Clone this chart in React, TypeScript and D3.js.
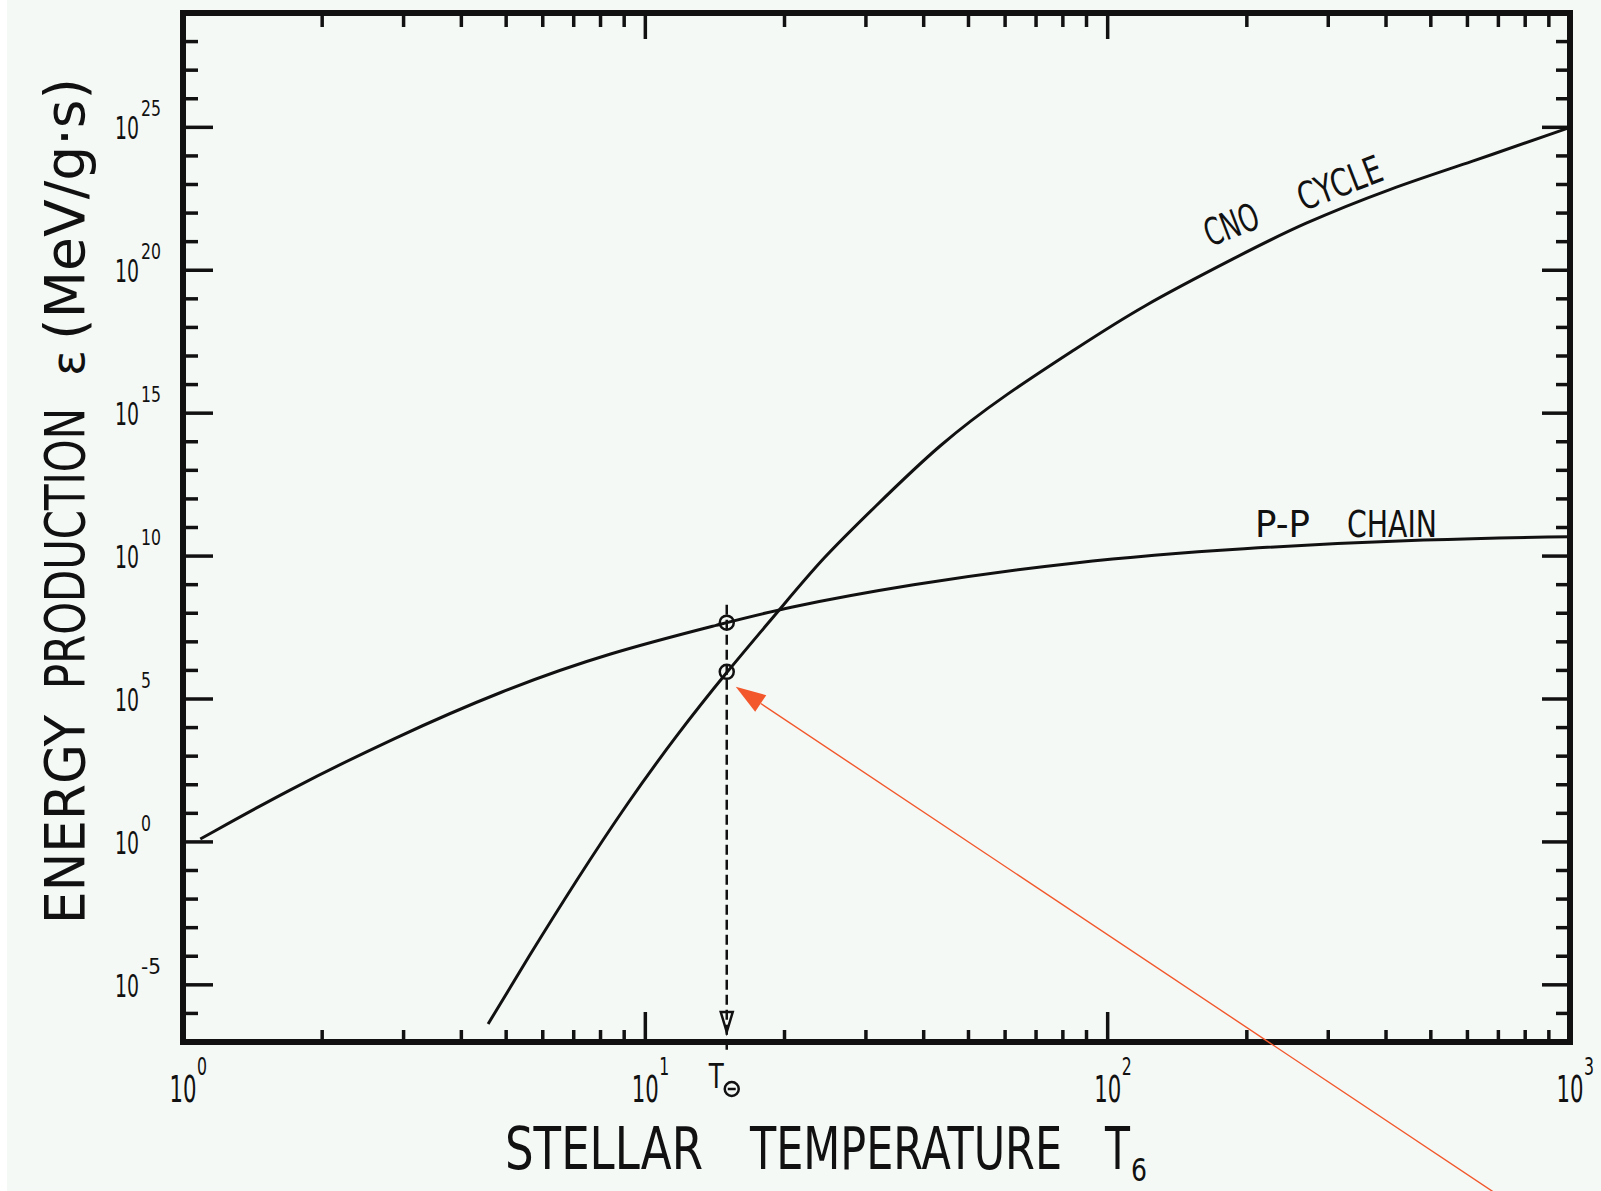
import * as d3 from 'd3';

// energy production vs stellar temperature (T in 10^6 K)
const ppTemps = [1.09, 1.68, 2.86, 4.88, 8.34, 15, 19.6, 36.8, 84.2, 193, 506, 1000];
const ppExps = [0.1, 1.8, 3.64, 5.29, 6.62, 7.67, 8.16, 9.0, 9.81, 10.28, 10.6, 10.68];

const cnoTemps = [4.57, 5.55, 7.12, 9.13, 11.7, 15, 19.6, 24.2, 31.1, 43.4, 60.6, 84.2, 117, 193, 261, 414, 599, 1000];
const cnoExps = [-6.37, -4.1, -1.3, 1.35, 3.75, 5.95, 8.16, 9.94, 11.66, 13.94, 15.69, 17.19, 18.7, 20.52, 21.6, 22.9, 23.74, 25.0];

const solarTemp = 15;
const solarExps = [7.67, 5.95];

const yLabelExps = [-5, 0, 5, 10, 15, 20, 25];
const xLabelExps = [0, 1, 2, 3];

const W = 1601;
const H = 1191;
const FONT = "'DejaVu Sans', sans-serif";
const INK = '#111';

export default function App() {
  const x = d3.scaleLog().domain([1, 1000]).range([183, 1570]);
  const y = d3.scaleLog().domain([1e-7, 1e29]).range([1042, 13]);
  const [x0, x1] = x.range();
  const [y0, y1] = y.range();

  const line = d3
    .line<[number, number]>()
    .x((d) => x(d[0]))
    .y((d) => y(d[1]))
    .curve(d3.curveBasis);

  const pp = ppTemps.map((t, i) => [t, 10 ** ppExps[i]] as [number, number]);
  const cno = cnoTemps.map((t, i) => [t, 10 ** cnoExps[i]] as [number, number]);

  // y ticks every decade, long ones every 5
  const yTicks = d3.range(-6, 29);
  // x ticks: 2..9 per decade, long at 10 and 100
  const xTicks: number[] = [];
  [1, 10, 100].forEach((dec) => d3.range(2, 10).forEach((k) => xTicks.push(k * dec)));
  xTicks.push(10, 100);
  const xMajor = (t: number) => t === 10 || t === 100;

  const sx = x(solarTemp);
  const cnoSolarY = y(10 ** solarExps[1]);

  // red annotation arrow pointing at the CNO solar point
  const tip: [number, number] = [sx + 9, cnoSolarY + 15];
  const tail: [number, number] = [1510, 1203];
  const len = Math.hypot(tail[0] - tip[0], tail[1] - tip[1]);
  const ux = (tail[0] - tip[0]) / len;
  const uy = (tail[1] - tip[1]) / len;
  const base: [number, number] = [tip[0] + 30 * ux, tip[1] + 30 * uy];
  const head = [
    tip,
    [base[0] - 10 * uy, base[1] + 10 * ux],
    [base[0] + 10 * uy, base[1] - 10 * ux],
  ];

  return (
    <svg
      width={W}
      height={H}
      style={{ position: 'absolute', left: 0, top: 0, display: 'block' }}
      fontFamily={FONT}
    >
      <rect width={W} height={H} fill="#ffffff" />
      <rect x={7} width={W - 7} height={H} fill="#f5f9f6" />

      {/* ticks */}
      <g stroke={INK} strokeWidth={3.5}>
        {yTicks.map((e) => {
          const major = e % 5 === 0;
          const yy = y(10 ** e);
          return (
            <g key={'y' + e}>
              <line x1={x0} x2={x0 + (major ? 30 : 15)} y1={yy} y2={yy} />
              <line x1={x1} x2={x1 - (major ? 28 : 14)} y1={yy} y2={yy} />
            </g>
          );
        })}
        {xTicks.map((t, i) => {
          const xx = x(t);
          const major = xMajor(t);
          return (
            <g key={'x' + i}>
              <line x1={xx} x2={xx} y1={y0} y2={y0 - (major ? 30 : 12)} />
              <line x1={xx} x2={xx} y1={y1} y2={y1 + (major ? 26 : 14)} />
            </g>
          );
        })}
      </g>

      {/* frame */}
      <rect
        x={x0}
        y={y1}
        width={x1 - x0}
        height={y0 - y1}
        fill="none"
        stroke={INK}
        strokeWidth={6}
      />

      {/* y tick labels */}
      {yLabelExps.map((e) => {
        const yy = y(10 ** e);
        const s = String(e);
        return (
          <g key={'yl' + e} fill={INK}>
            <text x={139} y={yy + 12} fontSize={32} textAnchor="end" textLength={24} lengthAdjust="spacingAndGlyphs">
              10
            </text>
            <text x={141} y={yy - 11} fontSize={22} textLength={10 * s.length} lengthAdjust="spacingAndGlyphs">
              {s}
            </text>
          </g>
        );
      })}

      {/* x tick labels */}
      {xLabelExps.map((e) => {
        const xx = x(10 ** e);
        return (
          <g key={'xl' + e} fill={INK}>
            <text x={xx} y={1102} fontSize={38} textAnchor="middle" textLength={27} lengthAdjust="spacingAndGlyphs">
              10
            </text>
            <text x={xx + 14} y={1075} fontSize={24} textLength={10} lengthAdjust="spacingAndGlyphs">
              {e}
            </text>
          </g>
        );
      })}

      {/* T sun label */}
      <text x={sx - 18} y={1088} fontSize={34} fill={INK} textLength={15} lengthAdjust="spacingAndGlyphs">
        T
      </text>
      <circle cx={sx + 5} cy={1089} r={7} fill="none" stroke={INK} strokeWidth={2.5} />
      <line x1={sx + 1} x2={sx + 9} y1={1089} y2={1089} stroke={INK} strokeWidth={2.5} />

      {/* axis titles */}
      <g fill={INK} fontSize={58}>
        <text x={505} y={1169} textLength={198} lengthAdjust="spacingAndGlyphs">STELLAR</text>
        <text x={750} y={1169} textLength={312} lengthAdjust="spacingAndGlyphs">TEMPERATURE</text>
        <text x={1105} y={1169} textLength={25} lengthAdjust="spacingAndGlyphs">T</text>
        <text x={1131} y={1181} fontSize={32} textLength={16} lengthAdjust="spacingAndGlyphs">6</text>
      </g>
      <g fill={INK} fontSize={56} transform="translate(84,0) rotate(-90)">
        <text x={-924} y={0} textLength={209} lengthAdjust="spacingAndGlyphs">ENERGY</text>
        <text x={-689} y={0} textLength={281} lengthAdjust="spacingAndGlyphs">PRODUCTION</text>
        <text x={-376} y={0} fontSize={46} textLength={26} lengthAdjust="spacingAndGlyphs">ε</text>
        <text x={-340} y={0} textLength={262} lengthAdjust="spacingAndGlyphs">(MeV/g·s)</text>
      </g>

      {/* curves */}
      <path d={line(pp) ?? ''} fill="none" stroke={INK} strokeWidth={3} />
      <path d={line(cno) ?? ''} fill="none" stroke={INK} strokeWidth={3} />

      {/* solar temperature marker */}
      <line
        x1={sx}
        x2={sx}
        y1={y(10 ** solarExps[0]) - 18}
        y2={1054}
        stroke={INK}
        strokeWidth={2.5}
        strokeDasharray="10,5"
      />
      <path
        d={`M${sx - 6},1012 L${sx + 6},1012 L${sx},1032 Z`}
        fill="none"
        stroke={INK}
        strokeWidth={2.5}
      />
      {solarExps.map((e) => (
        <circle key={'s' + e} cx={sx} cy={y(10 ** e)} r={7} fill="none" stroke={INK} strokeWidth={2.5} />
      ))}

      {/* curve labels */}
      <g fill={INK} fontSize={38}>
        <g transform="translate(1210,247) rotate(-21)">
          <text x={0} y={0} textLength={56} lengthAdjust="spacingAndGlyphs">CNO</text>
          <text x={100} y={0} textLength={88} lengthAdjust="spacingAndGlyphs">CYCLE</text>
        </g>
        <text x={1255} y={537} textLength={55} lengthAdjust="spacingAndGlyphs">P-P</text>
        <text x={1347} y={537} textLength={90} lengthAdjust="spacingAndGlyphs">CHAIN</text>
      </g>

      {/* annotation arrow */}
      <line x1={base[0]} y1={base[1]} x2={tail[0]} y2={tail[1]} stroke="#f2582c" strokeWidth={1.4} />
      <polygon points={head.map((p) => p.join(',')).join(' ')} fill="#f2582c" />
    </svg>
  );
}
